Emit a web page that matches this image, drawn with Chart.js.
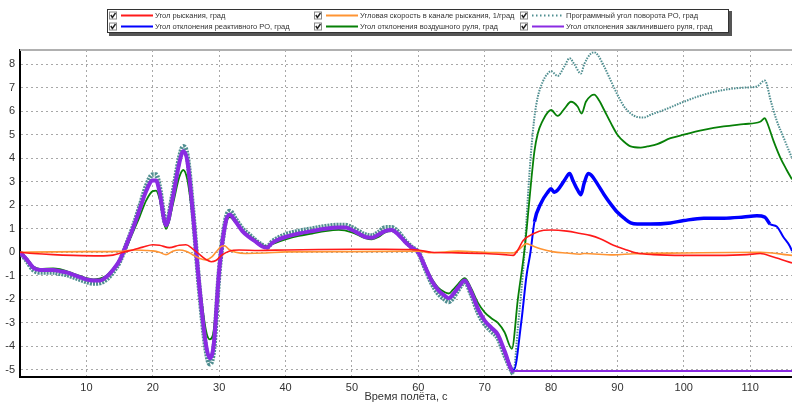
<!DOCTYPE html>
<html>
<head>
<meta charset="utf-8">
<script src="https://cdn.jsdelivr.net/npm/chart.js@4.4.0/dist/chart.umd.min.js"></script>
<style>
  html, body { margin: 0; padding: 0; background: #fff; }
  #wrap { width: 792px; height: 404px; }
</style>
</head>
<body>
<div id="wrap"><canvas id="flightChart" width="792" height="404"></canvas></div>
<script>
// time, value pairs
const yawAngle = [[0,0],[2,-0.05],[5,-0.1],[8,-0.13],[12,-0.15],[14,-0.12],[15.5,0],[17,0.1],[18.5,0.22],[20,0.32],[21,0.3],
  [22.5,0.2],[24,0.3],[25,0.32],[26,0.15],[27,-0.08],[28,-0.3],[28.8,-0.4],[29.5,-0.35],[30.5,-0.1],[31.5,0.05],[33,0.1],
  [36,0.08],[40,0.1],[45,0.12],[50,0.13],[55,0.13],[58,0.12],[60,0.1],[62,0],[65,-0.02],[70,-0.05],[73,-0.1],[74.3,-0.13],
  [75,0.1],[75.8,0.5],[77.4,0.8],[78.9,0.94],[80,0.95],[82.4,0.9],[84.4,0.8],[85.9,0.72],[87.4,0.58],[89.4,0.3],[91.4,0.1],
  [92.9,-0.03],[95.4,-0.1],[100,-0.13],[105,-0.13],[109.5,-0.1],[111.5,-0.05],[113.5,-0.2],[116.3,-0.45]];

const yawRate = [[0,0],[5,0.02],[10,0.03],[15,0.04],[17,0.1],[19,0.08],[20,0.06],[21,0],[22,-0.1],[23,0.05],[24,0.1],[25,0.05],
  [26,-0.1],[27,-0.25],[28,-0.32],[28.8,-0.22],[29.5,0],[30.3,0.25],[30.8,0.28],[31.5,0.12],[32.5,0],[34,-0.05],[37,-0.03],
  [40,0.02],[50,0.03],[60,0.05],[62,-0.02],[66,0.05],[70,0],[73,-0.02],[74.3,-0.03],[75.3,0.15],[76.3,0.37],[77,0.3],
  [78.4,0.15],[80.4,0.02],[82.4,-0.03],[84.4,-0.08],[85,-0.05],[89.4,-0.11],[92.4,-0.06],[100,-0.03],[111.5,0],[116.3,-0.13]];

const programAngle = [[0,0],[1,-0.35],[2,-0.75],[3,-0.85],[5,-0.85],[6,-0.9],[7,-0.95],[8,-1.05],[9,-1.15],[10,-1.25],
  [11,-1.32],[12,-1.3],[13,-1.15],[14,-0.85],[15,-0.4],[16,0.3],[17,1.05],[18,1.9],[19,2.8],[20,3.3],[20.5,3.3],[21,2.8],
  [22,1.2],[23,2.45],[24,4.0],[24.6,4.5],[25.2,4.1],[26,1.9],[27,-1.5],[28,-4.1],[28.6,-4.75],[29.2,-4.1],[30,-0.85],
  [31,1.4],[31.6,1.75],[32.5,1.4],[33.5,1.0],[34.5,0.75],[35.5,0.5],[36.5,0.3],[37.2,0.22],[38,0.45],[40,0.75],[42,0.9],
  [44,1.0],[46,1.1],[48,1.15],[49,1.15],[50,1.05],[52,0.75],[53,0.7],[54,0.85],[55,1.05],[56,1.05],[57,0.85],[58,0.5],
  [59,0.22],[60,0],[61,-0.65],[62,-1.3],[63,-1.75],[64,-2.0],[64.6,-2.1],[65.2,-1.95],[66,-1.6],[67,-1.25],[68,-1.8],
  [69,-2.55],[70,-3.05],[71,-3.35],[72,-3.65],[73,-4.35],[74,-5.0],[74.3,-5.15],[75,-3.2],[76,0],[76.5,2.3],[77,4.3],
  [77.5,5.75],[78,6.6],[78.75,7.25],[79.5,7.6],[80,7.7],[81,7.5],[82,7.9],[82.8,8.25],[83.5,8.0],[84.5,7.6],[85,8.0],
  [86,8.45],[86.5,8.5],[87,8.4],[88,7.9],[89,7.3],[90,6.7],[91,6.2],[92,5.9],[93,5.75],[94,5.73],[95,5.85],[97,6.05],
  [100,6.4],[103,6.7],[106,6.9],[109,7.0],[111,7.05],[112.2,7.3],[112.5,7.15],[113,6.55],[114,5.6],[115,4.9],[116.3,4.0]];

const jetVane = [[0,0],[1,-0.3],[2,-0.65],[3,-0.75],[5,-0.75],[6,-0.8],[7,-0.85],[8,-0.95],[9,-1.05],[10,-1.15],[11,-1.2],
  [12,-1.2],[13,-1.05],[14,-0.75],[15,-0.35],[16,0.3],[17,1.0],[18,1.8],[19,2.6],[20,3.05],[20.5,3.05],[21,2.6],[22,1.15],
  [23,2.3],[24,3.8],[24.6,4.3],[25.2,3.9],[26,1.8],[27,-1.4],[28,-3.9],[28.6,-4.5],[29.2,-3.9],[30,-0.8],[31,1.3],
  [31.6,1.6],[32.5,1.3],[33.5,0.9],[34.5,0.65],[35.5,0.45],[36.5,0.25],[37.2,0.2],[38,0.4],[39,0.55],[40,0.65],[42,0.8],
  [44,0.9],[46,1.0],[48,1.05],[49,1.05],[50,0.95],[51,0.8],[52,0.65],[53,0.62],[54,0.75],[55,0.9],[56,0.95],[57,0.75],
  [58,0.45],[59,0.2],[60,0],[61,-0.6],[62,-1.2],[63,-1.6],[64,-1.85],[64.6,-1.95],[65.2,-1.8],[66,-1.5],[67,-1.2],
  [68,-1.7],[69,-2.4],[70,-2.9],[71,-3.2],[72,-3.5],[73,-4.2],[74.4,-5.0],[75.5,-3.0],[76.3,-1.0],[76.9,0],[77.5,1.3],
  [78.5,2.1],[79.5,2.55],[80,2.7],[80.5,2.55],[81,2.65],[82,3.05],[82.8,3.35],[83.3,3.05],[84,2.65],[84.5,2.45],[85,2.95],
  [85.6,3.35],[86,3.3],[87,2.9],[88,2.45],[89,2.05],[90,1.7],[91,1.45],[92,1.25],[93,1.2],[95,1.2],[98,1.25],[100,1.35],
  [103,1.45],[106,1.45],[109,1.5],[111,1.55],[112.2,1.5],[113,1.2],[114,1.1],[115,0.65],[116,0.25],[116.3,0.05]];

const airRudder = [[0,0],[1,-0.25],[2,-0.6],[3,-0.7],[5,-0.68],[6,-0.72],[7,-0.8],[8,-0.9],[9,-1.0],[10,-1.1],[11,-1.15],
  [12,-1.12],[13,-1.0],[14,-0.7],[15,-0.35],[16,0.2],[17,0.85],[18,1.5],[19,2.2],[20,2.6],[20.5,2.62],[21,2.3],[22,1.0],
  [23,2.0],[24,3.2],[24.6,3.5],[25.2,3.1],[26,1.5],[27,-1.2],[28,-3.3],[28.6,-3.7],[29.2,-3.3],[30,-0.7],[31,1.2],
  [31.6,1.5],[32.5,1.25],[33.5,0.9],[34.5,0.7],[35.5,0.5],[36.5,0.3],[37.2,0.25],[38,0.35],[40,0.55],[42,0.7],[44,0.8],
  [46,0.9],[48,0.95],[50,0.85],[52,0.6],[53,0.55],[54,0.65],[55,0.85],[56,0.9],[57,0.75],[58,0.5],[59,0.25],[60,0],
  [61,-0.55],[62,-1.1],[63,-1.5],[64,-1.7],[64.6,-1.75],[65.2,-1.6],[66,-1.35],[67,-1.1],[68,-1.55],[69,-2.15],[70,-2.55],
  [71,-2.8],[72,-3.0],[73,-3.4],[74.1,-4.1],[75,-2.0],[76,0.1],[76.5,1.5],[77,3.0],[77.5,4.3],[78,5.05],[78.75,5.6],
  [79.5,5.95],[80,6.05],[81,5.8],[82,6.1],[83,6.4],[84,6.2],[84.6,5.9],[85.25,6.4],[86,6.65],[86.5,6.7],[87.25,6.45],
  [88,6.05],[89,5.5],[90,5.0],[91,4.7],[92,4.5],[93.5,4.45],[94.5,4.5],[96,4.6],[98,4.85],[100,5.0],[103,5.2],[106,5.35],
  [109,5.45],[111.5,5.55],[112.2,5.7],[112.5,5.55],[113.5,4.75],[114.5,4.05],[115.5,3.5],[116.3,3.1]];

const jammedRudder = jetVane.filter(p => p[0] <= 74).concat([[74.3,-5.05],[116.3,-5.05]]);

const seriesNames = ['Угол рыскания, град', 'Угловая скорость в канале рыскания, 1/град', 'Программный угол поворота РО, град',
  'Угол отклонения реактивного РО, град', 'Угол отклонения воздушного руля, град', 'Угол отклонения заклинившего руля, град'];
const seriesColors = ['#ff1a1a', '#ff9433', '#4f8e90', '#0000ff', '#078007', '#8a2be2'];

const toXY = arr => arr.map(p => ({x: p[0], y: p[1]}));

const legendBox = {
  id: 'legendBox',
  afterDraw(chart) {
    const ctx = chart.ctx;
    const area = chart.chartArea;
    ctx.save();
    // top border of plot
    ctx.strokeStyle = '#b0b0b0';
    ctx.lineWidth = 2;
    ctx.beginPath();
    ctx.moveTo(area.left, area.top);
    ctx.lineTo(area.right, area.top);
    ctx.stroke();
    // legend frame with shadow
    ctx.fillStyle = '#555';
    ctx.fillRect(109, 11, 623, 25);
    ctx.fillStyle = '#fff';
    ctx.fillRect(107, 9, 622, 24);
    ctx.strokeStyle = '#333';
    ctx.lineWidth = 1;
    ctx.strokeRect(107.5, 9.5, 621, 23);
    const cols = [109, 314, 520];
    const rows = [15.5, 26.5];
    ctx.font = '7.5px "Liberation Sans", Arial, sans-serif';
    ctx.textBaseline = 'middle';
    seriesNames.forEach((name, i) => {
      const cx = cols[i % 3];
      const cy = rows[Math.floor(i / 3)];
      ctx.fillStyle = '#fff';
      ctx.fillRect(cx, cy - 4, 8, 8);
      ctx.strokeStyle = '#888';
      ctx.lineWidth = 1;
      ctx.strokeRect(cx + 0.5, cy - 3.5, 7, 7);
      ctx.strokeStyle = '#222';
      ctx.lineWidth = 1.4;
      ctx.beginPath();
      ctx.moveTo(cx + 1.8, cy - 0.5);
      ctx.lineTo(cx + 3.4, cy + 2);
      ctx.lineTo(cx + 6.5, cy - 2.5);
      ctx.stroke();
      ctx.strokeStyle = seriesColors[i];
      ctx.lineWidth = 2;
      ctx.setLineDash(i === 2 ? [1.5, 2.5] : []);
      ctx.beginPath();
      ctx.moveTo(cx + 12, cy);
      ctx.lineTo(cx + 44, cy);
      ctx.stroke();
      ctx.setLineDash([]);
      ctx.fillStyle = '#333';
      ctx.fillText(name, cx + 46, cy + 0.5);
    });
    ctx.restore();
  }
};

const ctx = document.getElementById('flightChart').getContext('2d');
new Chart(ctx, {
  type: 'line',
  data: {
    datasets: [
      { label: seriesNames[0], data: toXY(yawAngle), borderColor: seriesColors[0], borderWidth: 1.6, order: 1 },
      { label: seriesNames[1], data: toXY(yawRate), borderColor: seriesColors[1], borderWidth: 1.6, order: 2 },
      { label: seriesNames[2], data: toXY(programAngle), borderColor: seriesColors[2], borderWidth: 2, order: 6,
        segment: {
          borderWidth: c => c.p0.parsed.x < 74.3 ? 5 : 2,
          borderDash: c => c.p0.parsed.x < 74.3 ? [2, 1] : [1.5, 1.2]
        } },
      { label: seriesNames[3], data: toXY(jetVane), borderColor: seriesColors[3], borderWidth: 2, order: 4,
        segment: { borderWidth: c => (c.p0.parsed.x > 77 && c.p0.parsed.x < 113) ? 3.5 : 2 } },
      { label: seriesNames[4], data: toXY(airRudder), borderColor: seriesColors[4], borderWidth: 1.8, order: 5 },
      { label: seriesNames[5], data: toXY(jammedRudder), borderColor: seriesColors[5], borderWidth: 2, order: 3,
        segment: { borderWidth: c => c.p0.parsed.x < 74 ? 4 : 2 } }
    ]
  },
  options: {
    responsive: false,
    animation: false,
    parsing: false,
    elements: {
      point: { radius: 0 },
      line: { tension: 0.4, cubicInterpolationMode: 'monotone', fill: false }
    },
    layout: { padding: { top: 50, left: 0, right: 0, bottom: 0 } },
    plugins: {
      legend: { display: false },
      tooltip: { enabled: false }
    },
    scales: {
      x: {
        type: 'linear',
        min: 0,
        max: 116.3,
        afterFit: s => { s.height = 27; },
        ticks: {
          stepSize: 10,
          includeBounds: false,
          padding: 4,
          color: '#333',
          font: { family: '"Liberation Sans", Arial, sans-serif', size: 11 },
          callback: v => v === 0 ? '' : v
        },
        grid: { color: '#a8a8a8', drawTicks: false, lineWidth: 1 },
        border: { display: true, color: '#000', width: 2, dash: [2, 3] },
        title: {
          display: true,
          text: 'Время полёта, с',
          color: '#333',
          padding: 0,
          font: { family: '"Liberation Sans", Arial, sans-serif', size: 11 }
        }
      },
      y: {
        min: -5.3,
        max: 8.6,
        afterFit: s => { s.width = 20; },
        ticks: {
          stepSize: 1,
          includeBounds: false,
          padding: 5,
          color: '#333',
          font: { family: '"Liberation Sans", Arial, sans-serif', size: 11 }
        },
        grid: { color: '#a8a8a8', drawTicks: false, lineWidth: 1 },
        border: { display: true, color: '#000', width: 2, dash: [2, 3] }
      }
    }
  },
  plugins: [legendBox]
});
</script>
</body>
</html>
